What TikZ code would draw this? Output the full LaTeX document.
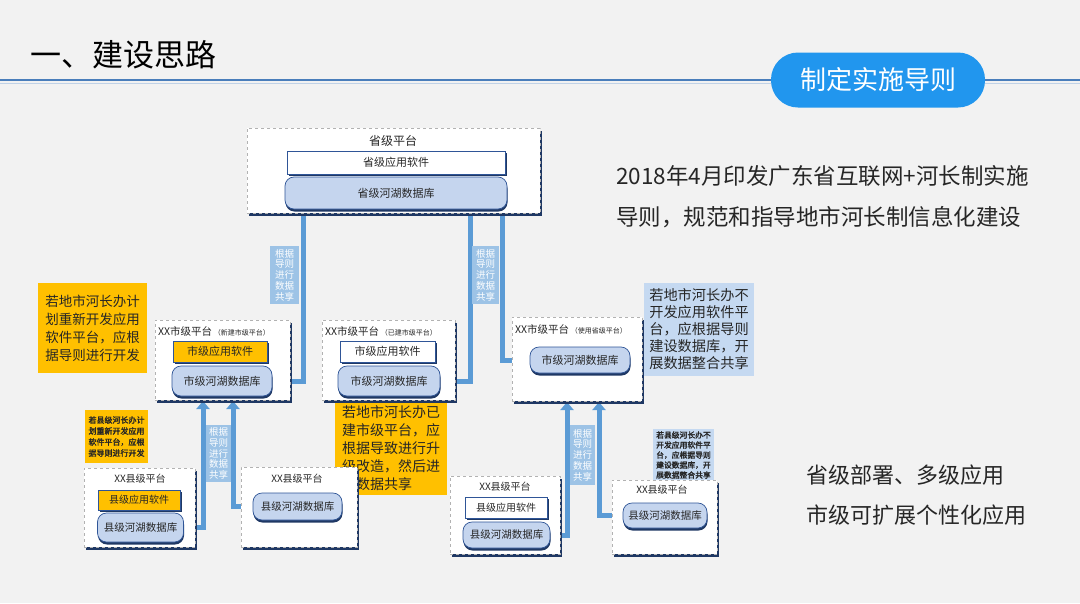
\documentclass[tikz,border=0pt]{standalone}
\usepackage{fontspec}
\setmainfont{Noto Sans CJK SC}
\newfontfamily\fbold[FakeBold=2]{Noto Sans CJK SC}
\usetikzlibrary{arrows.meta,shadows}
\definecolor{bg}{HTML}{F2F2F2}
\definecolor{connc}{HTML}{5B9BD5}
\definecolor{navy}{HTML}{1F3864}
\definecolor{dbfill}{HTML}{C5D5EE}
\definecolor{dbline}{HTML}{2F5597}
\definecolor{orng}{HTML}{FFC000}
\definecolor{lblfill}{HTML}{9DC3E6}
\definecolor{notefill}{HTML}{C5D9F1}
\definecolor{pillc}{HTML}{2196EE}
\definecolor{linec}{HTML}{4A7EBB}
\definecolor{txt}{HTML}{262626}
\newcommand\fsz[1]{\fontsize{#1}{#1}\selectfont}
\pgfdeclarelayer{bgl}
\pgfdeclarelayer{back}
\pgfsetlayers{bgl,back,main}
\begin{document}
\begin{tikzpicture}[x=1pt,y=-1pt,
  plat/.style={draw=gray!60, dashed, line width=0.6pt, fill=white, inner sep=0pt,
    drop shadow={fill=navy, opacity=1, shadow xshift=2pt, shadow yshift=-2.5pt}},
  db/.style={draw=dbline, line width=0.7pt, fill=dbfill, rounded corners=9pt, inner sep=0pt,
    font=\fsz{11}, text=txt, drop shadow={fill=navy, opacity=1, shadow xshift=0.5pt, shadow yshift=-2.5pt}},
  sw/.style={draw=dbline, line width=0.6pt, fill=white, inner sep=0pt, font=\fsz{11}, text=txt,
    drop shadow={fill=navy, opacity=1, shadow xshift=1.5pt, shadow yshift=-2pt}},
  swo/.style={sw, fill=orng},
  lbl/.style={fill=lblfill, text=white, font=\fontsize{9.5}{10.8}\selectfont, align=center, inner sep=0pt},
  conn/.style={draw=connc, line width=5pt},
  endtip/.style={-{Triangle[width=9pt,length=4pt]}},
  bothtip/.style={{Triangle[width=13pt,length=8pt]}-{Triangle[width=9pt,length=4pt]}},
  note/.style={fill=orng, text=txt, align=left, inner sep=0pt},
  bnote/.style={note, fill=notefill},
  ptitle/.style={text=txt, inner sep=0pt},
  bigtext/.style={anchor=west, text=txt, inner sep=0pt, font=\fsz{22.5}}
]
\useasboundingbox (0,0) rectangle (1080,603);
\begin{pgfonlayer}{bgl}
\fill[bg] (0,0) rectangle (1080,603);
\end{pgfonlayer}

% header
\draw[line width=1pt, color=linec!35] (0,83) -- (1080,83);
\draw[line width=2.5pt, color=linec] (0,80) -- (1080,80);
\node[anchor=west, font=\fsz{31}, text=black, inner sep=0pt] (title) at (30,55) {一、建设思路};
\node[fill=pillc, rounded corners=27pt, minimum width=214pt, minimum height=55pt, text=white, font=\fsz{26}, inner sep=0pt] (pill) at (878,80) {制定实施导则};

% province
\node[plat, minimum width=293pt, minimum height=85pt] (prov) at (393.5,170.5) {};
\node[ptitle, font=\fsz{12}] (provt) at (393,141) {省级平台};
\node[sw, minimum width=218pt, minimum height=23pt] (psw) at (396,162.5) {省级应用软件};
\node[db, minimum width=222pt, minimum height=32pt] (pdb) at (396,193) {省级河湖数据库};

% notes behind boxes
\node[note, minimum width=109pt, minimum height=90pt, font=\fontsize{13.5}{18}\selectfont] (n1) at (92.5,328) {若地市河长办计\\划重新开发应用\\软件平台，应根\\据导则进行开发};
\node[note, minimum width=112pt, minimum height=94pt, font=\fontsize{14}{18}\selectfont] (n2) at (391,448) {若地市河长办已\\建市级平台，应\\根据导致进行升\\级改造，然后进\\行数据共享};
\node[bnote, minimum width=110pt, minimum height=93pt, font=\fontsize{14.2}{17}\selectfont] (n3) at (699,329.5) {若地市河长办不\\开发应用软件平\\台，应根据导则\\建设数据库，开\\展数据整合共享};
\node[note, minimum width=63pt, minimum height=53pt, font=\fontsize{8}{11}\selectfont\fbold] (n4) at (116.5,436.5) {若县级河长办计\\划重新开发应用\\软件平台，应根\\据导则进行开发};
\node[bnote, minimum width=61pt, minimum height=53pt, font=\fontsize{7.8}{10}\selectfont\fbold] (n5) at (683.5,455) {若县级河长办不\\开发应用软件平\\台，应根据导则\\建设数据库，开\\展数据整合共享};

% city level
\node[plat, minimum width=135pt, minimum height=80pt] (c1) at (222.5,360) {};
\node[ptitle, anchor=west, font=\fsz{10.5}] (c1t) at (158,331) {XX市级平台\,{\fsz{7}（新建市级平台）}};
\node[swo, minimum width=94pt, minimum height=21pt] (c1sw) at (220,351.5) {市级应用软件};
\node[db, minimum width=100pt, minimum height=30pt] (c1db) at (222,381) {市级河湖数据库};

\node[plat, minimum width=133pt, minimum height=80pt] (c2) at (388.5,360) {};
\node[ptitle, anchor=west, font=\fsz{10.5}] (c2t) at (325,331) {XX市级平台\,{\fsz{7}（已建市级平台）}};
\node[sw, minimum width=95pt, minimum height=21pt] (c2sw) at (387.5,351.5) {市级应用软件};
\node[db, minimum width=102pt, minimum height=30pt] (c2db) at (389,381) {市级河湖数据库};

\node[plat, minimum width=130pt, minimum height=84pt] (c3) at (577,359) {};
\node[ptitle, anchor=west, font=\fsz{10.5}] (c3t) at (515,329) {XX市级平台\,{\fsz{7}（使用省级平台）}};
\node[db, minimum width=100pt, minimum height=26pt] (c3db) at (580,360) {市级河湖数据库};

% county level
\node[plat, minimum width=111pt, minimum height=79pt] (k1) at (139.5,507.5) {};
\node[ptitle, font=\fsz{10}] (k1t) at (140,479) {XX县级平台};
\node[swo, minimum width=82pt, minimum height=20pt, font=\fsz{10}] (k1sw) at (139,500) {县级应用软件};
\node[db, minimum width=86pt, minimum height=29pt, font=\fsz{10.5}] (k1db) at (140.5,527.5) {县级河湖数据库};

\node[plat, minimum width=116pt, minimum height=80pt] (k2) at (299,507) {};
\node[ptitle, font=\fsz{10}] (k2t) at (297,479) {XX县级平台};
\node[db, minimum width=89pt, minimum height=27pt, font=\fsz{10.5}] (k2db) at (297.5,506.5) {县级河湖数据库};

\node[plat, minimum width=110pt, minimum height=78pt] (k3) at (505,515) {};
\node[ptitle, font=\fsz{10}] (k3t) at (505,487) {XX县级平台};
\node[sw, minimum width=82pt, minimum height=21pt, font=\fsz{10}] (k3sw) at (506,507.5) {县级应用软件};
\node[db, minimum width=87pt, minimum height=26pt, font=\fsz{10.5}] (k3db) at (506.5,535) {县级河湖数据库};

\node[plat, minimum width=105pt, minimum height=74pt] (k4) at (664.5,517) {};
\node[ptitle, font=\fsz{10}] (k4t) at (662,490) {XX县级平台};
\node[db, minimum width=84pt, minimum height=25pt, font=\fsz{10.5}] (k4db) at (665,515.5) {县级河湖数据库};

% connectors
\coordinate (p1) at (303,208);
\coordinate (p2) at (470,208);
\coordinate (p3) at (502,208);
\coordinate (a1) at (203,401);
\coordinate (a2) at (233,401);
\coordinate (a3) at (567,402);
\coordinate (a4) at (599,402);
\begin{pgfonlayer}{back}
\draw[conn, endtip] (p1) |- (c1db.east);
\draw[conn, endtip] (p2) |- (c2db.east);
\draw[conn, endtip] (p3) |- (c3db.west);
\draw[conn, bothtip] (a1) |- (k1db.east);
\draw[conn, bothtip] (a2) |- (k2db.west);
\draw[conn, bothtip] (a3) |- (k3db.east);
\draw[conn, bothtip] (a4) |- (k4db.west);
\end{pgfonlayer}

% connector labels
\node[lbl, minimum width=29pt, minimum height=58pt] (l1) at (284.5,275) {根据\\导则\\进行\\数据\\共享};
\node[lbl, minimum width=27pt, minimum height=58pt] (l2) at (485.5,275) {根据\\导则\\进行\\数据\\共享};
\node[lbl, minimum width=25pt, minimum height=57pt] (l3) at (218.5,453.5) {根据\\导则\\进行\\数据\\共享};
\node[lbl, minimum width=25pt, minimum height=60pt] (l4) at (582.5,455) {根据\\导则\\进行\\数据\\共享};

% right texts
\node[bigtext] (r1) at (616,176) {2018年4月印发广东省互联网+河长制实施};
\node[bigtext] (r2) at (616,217) {导则，规范和指导地市河长制信息化建设};
\node[bigtext, font=\fsz{22}] (r3) at (806,475) {省级部署、多级应用};
\node[bigtext, font=\fsz{22}] (r4) at (806,515) {市级可扩展个性化应用};
\end{tikzpicture}
\end{document}
